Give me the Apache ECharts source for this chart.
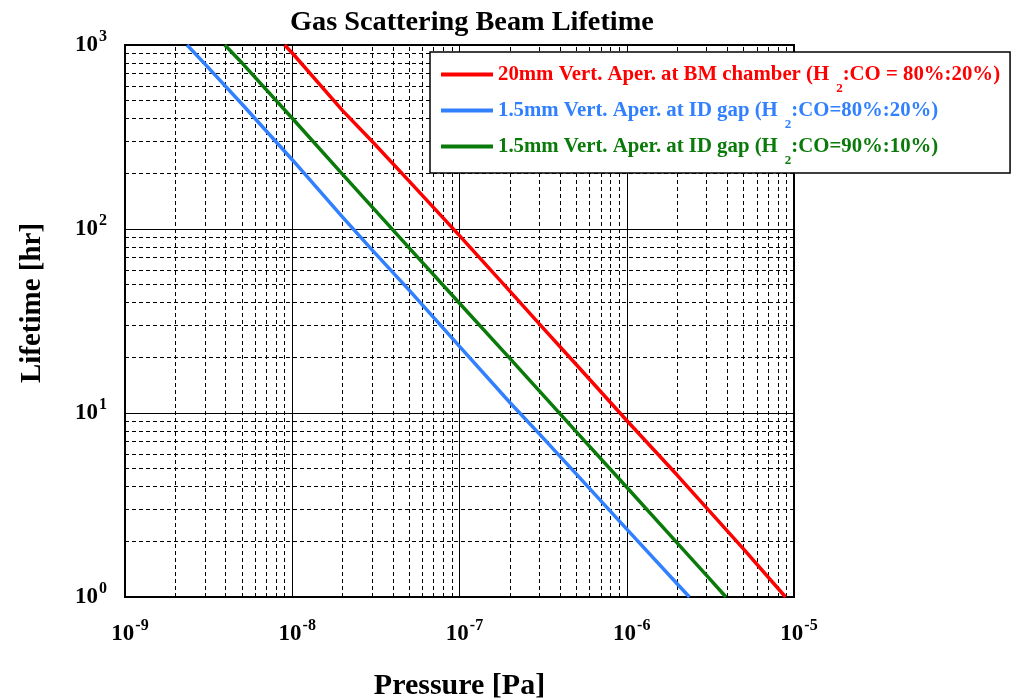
<!DOCTYPE html>
<html>
<head>
<meta charset="utf-8">
<script src="https://cdn.jsdelivr.net/npm/echarts@6/dist/echarts.min.js"></script>
<style>
html,body{margin:0;padding:0;background:#fff;}
#chart{width:1017px;height:698px;}
</style>
</head>
<body>
<div id="chart"></div>
<script>
// ---- data ----
const seriesNames = [
  '20mm Vert. Aper. at BM chamber (H2:CO = 80%:20%)',
  '1.5mm Vert. Aper. at ID gap (H2:CO=80%:20%)',
  '1.5mm Vert. Aper. at ID gap (H2:CO=90%:10%)'
];
const seriesColors = ['#ff0000', '#3080ff', '#0a7a0a'];

// Red: 20mm BM chamber
const redP = [9.0e-9, 1e-8, 2e-8, 3e-8, 5e-8, 1e-7, 2e-7, 3e-7, 5e-7, 1e-6, 2e-6, 3e-6, 5e-6, 8.9e-6];
const redL = [1000, 905, 440, 300, 182, 92, 46, 30.5, 18.3, 9.1, 4.6, 3.05, 1.82, 1.0];

// Blue: 1.5mm ID gap 80:20
const blueP = [2.35e-9, 3e-9, 5e-9, 1e-8, 2e-8, 3e-8, 5e-8, 1e-7, 2e-7, 3e-7, 5e-7, 1e-6, 2e-6, 2.37e-6];
const blueL = [1000, 790, 478, 238, 116, 77, 46.5, 23.0, 11.4, 7.7, 4.65, 2.34, 1.18, 1.0];

// Green: 1.5mm ID gap 90:10
const greenP = [3.95e-9, 5e-9, 1e-8, 2e-8, 3e-8, 5e-8, 1e-7, 2e-7, 3e-7, 5e-7, 1e-6, 2e-6, 3e-6, 3.92e-6];
const greenL = [1000, 800, 400, 198, 132, 79, 39.5, 19.8, 13.2, 7.9, 3.95, 1.97, 1.31, 1.0];

// axes
const xMin = 1e-9, xMax = 1e-5;
const yMin = 1, yMax = 1000;
const minorMultipliers = [2, 3, 4, 5, 6, 7, 8, 9];
const xDecades = [1e-9, 1e-8, 1e-7, 1e-6];
const yDecades = [1, 10, 100];

// ---- build ----
const FONT = '"Liberation Serif", "Times New Roman", serif';
function pairs(px, py) { return px.map((p, i) => [p, py[i]]); }

const minorLines = [];
xDecades.forEach(d => minorMultipliers.forEach(m => {
  const v = m * d;
  minorLines.push([{ coord: [v, yMin] }, { coord: [v, yMax] }]);
}));
yDecades.forEach(d => minorMultipliers.forEach(m => {
  const v = m * d;
  minorLines.push([{ coord: [xMin, v] }, { coord: [xMax, v] }]);
}));

function expLabel(v) {
  const e = Math.round(Math.log10(v));
  return '{b|10}{s|' + e + '}';
}
const labelRich = {
  b: { fontFamily: FONT, fontWeight: 'bold', fontSize: 23, color: '#000' },
  s: { fontFamily: FONT, fontWeight: 'bold', fontSize: 16, color: '#000', padding: [0, 0, 17, 1] }
};

const legendKeys = ['r', 'b', 'g'];
const legendRich = {};
legendKeys.forEach((k, i) => {
  legendRich[k] = { fontFamily: FONT, fontWeight: 'bold', fontSize: 20.8, color: seriesColors[i] };
  legendRich[k + 's'] = { fontFamily: FONT, fontWeight: 'bold', fontSize: 13, lineHeight: 13, color: seriesColors[i], padding: [28, 0, 0, 7] };
});

const dataSets = [pairs(redP, redL), pairs(blueP, blueL), pairs(greenP, greenL)];

const series = dataSets.map((d, i) => ({
  name: seriesNames[i],
  type: 'line',
  data: d,
  showSymbol: false,
  smooth: false,
  z: 5,
  lineStyle: { color: seriesColors[i], width: 3.5 },
  itemStyle: { color: seriesColors[i] }
}));

series.push({
  name: 'minorGrid',
  type: 'line',
  data: [[xMin, yMin]],
  showSymbol: false,
  lineStyle: { opacity: 0 },
  z: 1,
  silent: true,
  markLine: {
    silent: true,
    symbol: 'none',
    animation: false,
    label: { show: false },
    lineStyle: { color: '#000', width: 1, type: [4, 3] },
    data: minorLines
  }
});

const chart = echarts.init(document.getElementById('chart'), null, { renderer: 'canvas' });
chart.setOption({
  animation: false,
  backgroundColor: '#fff',
  title: {
    text: 'Gas Scattering Beam Lifetime',
    left: 285,
    top: 4,
    textStyle: { fontFamily: FONT, fontWeight: 'bold', fontSize: 28.3, color: '#000' }
  },
  grid: {
    left: 125, right: 223, top: 45, bottom: 101,
    outerBoundsMode: 'none',
    containLabel: false,
    show: true, borderColor: '#000', borderWidth: 2, backgroundColor: 'transparent'
  },
  legend: {
    data: seriesNames,
    orient: 'vertical',
    left: 430,
    top: 52,
    icon: 'rect',
    itemWidth: 52,
    itemHeight: 4,
    itemGap: -5,
    padding: [2, 10, 6, 11],
    backgroundColor: '#fff',
    borderColor: '#000',
    borderWidth: 1.5,
    selectedMode: false,
    z: 10,
    textStyle: { rich: legendRich },
    formatter: function (name) {
      const i = seriesNames.indexOf(name);
      const k = legendKeys[i];
      const parts = name.split('H2');
      return '{' + k + '|' + parts[0] + 'H}{' + k + 's|2}{' + k + '|' + parts[1] + '}';
    }
  },
  xAxis: {
    type: 'log',
    logBase: 10,
    min: xMin,
    max: xMax,
    name: 'Pressure [Pa]',
    nameLocation: 'middle',
    nameGap: 74,
    nameTextStyle: { fontFamily: FONT, fontWeight: 'bold', fontSize: 30, color: '#000' },
    axisLine: { show: true, lineStyle: { color: '#000', width: 2 } },
    axisTick: { show: true, inside: true, length: 6, lineStyle: { color: '#000', width: 1 } },
    axisLabel: { formatter: expLabel, rich: labelRich, margin: 21, padding: [0, 0, 0, 10] },
    splitLine: { show: true, lineStyle: { color: '#000', width: 1, type: 'solid' } }
  },
  yAxis: {
    type: 'log',
    logBase: 10,
    min: yMin,
    max: yMax,
    name: 'Lifetime [hr]',
    nameLocation: 'middle',
    nameGap: 78,
    nameTextStyle: { fontFamily: FONT, fontWeight: 'bold', fontSize: 29, color: '#000', padding: [0, 0, 0, 36] },
    axisLine: { show: true, lineStyle: { color: '#000', width: 2 } },
    axisTick: { show: true, inside: true, length: 6, lineStyle: { color: '#000', width: 1 } },
    axisLabel: { formatter: expLabel, rich: labelRich, margin: 18 },
    splitLine: { show: true, lineStyle: { color: '#000', width: 1, type: 'solid' } }
  },
  series: series
});
</script>
</body>
</html>
